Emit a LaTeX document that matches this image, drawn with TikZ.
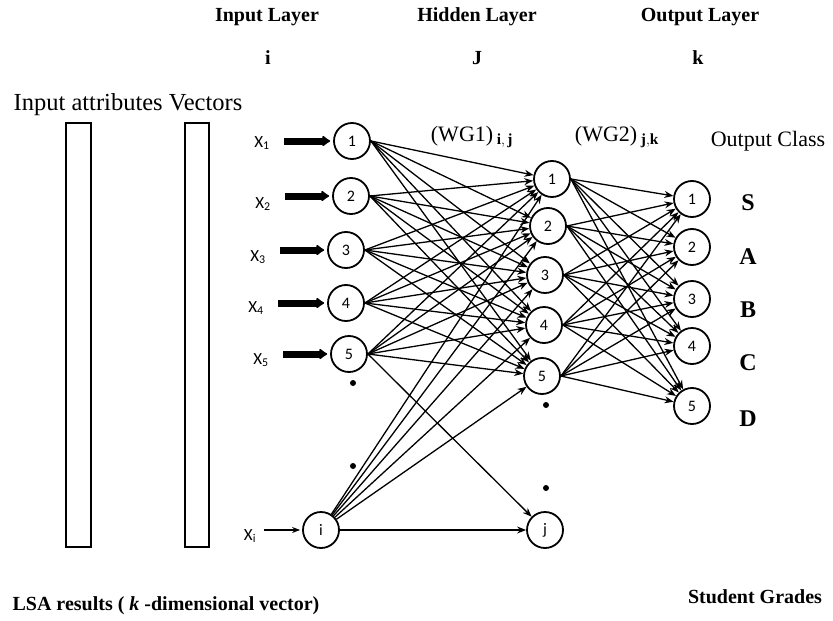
\documentclass[tikz,border=0pt]{standalone}
\usepackage{fontspec}
\setmainfont{Liberation Serif}
\newfontfamily\numfont{Carlito}
\usetikzlibrary{arrows.meta}

\begin{document}
\begin{tikzpicture}[x=1pt,y=-1pt,
    neuron/.style={circle,draw,line width=1.8pt,minimum size=36pt,inner sep=0pt,
        font=\numfont\fontsize{16}{16}\selectfont},
    link/.style={line width=1.3pt,-{Stealth[length=9pt,width=7pt]}},
    fatarrow/.style={line width=7pt,-{Latex[round,length=9pt,width=13pt]},shorten <=11pt,shorten >=3pt},
    inlabel/.style={font=\numfont\fontsize{17}{17}\selectfont},
    heading/.style={font=\bfseries\fontsize{20}{20}\selectfont},
    classlabel/.style={font=\bfseries\fontsize{24}{24}\selectfont},
    plain/.style={font=\fontsize{22}{22}\selectfont}
]
\useasboundingbox (0,0) rectangle (833,621);

% layer headings
\node[heading] (hin) at (267,17) {Input Layer};
\node[heading] (hhid) at (477,17) {Hidden Layer};
\node[heading] (hout) at (700,17) {Output Layer};
\node[heading] (idxi) at (268,58) {i};
\node[heading] (idxj) at (477,58) {J};
\node[heading] (idxk) at (698,58) {k};

% input vectors
\node[plain,font=\fontsize{24.5}{24.5}\selectfont] (vec) at (128,105) {Input attributes Vectors};
\draw[line width=1.8pt] (66,123) rectangle (91,547);
\draw[line width=1.8pt] (185,123) rectangle (209,547);

% input layer
\node[neuron] (in1) at (352,141) {1};
\node[neuron] (in2) at (351,196) {2};
\node[neuron] (in3) at (346,250) {3};
\node[neuron] (in4) at (346,303) {4};
\node[neuron] (in5) at (349,354) {5};
\node[neuron] (ini) at (321,530) {i};

% hidden layer
\node[neuron] (hd1) at (552,179) {1};
\node[neuron] (hd2) at (548,226) {2};
\node[neuron] (hd3) at (545,275) {3};
\node[neuron] (hd4) at (544,325) {4};
\node[neuron] (hd5) at (542,376) {5};
\node[neuron] (hdj) at (545,530) {j};

% output layer
\node[neuron] (out1) at (692,199) {1};
\node[neuron] (out2) at (692,247) {2};
\node[neuron] (out3) at (692,299) {3};
\node[neuron] (out4) at (692,346) {4};
\node[neuron] (out5) at (692,406) {5};

% inputs
\node[inlabel] (x1) at (262,143) {X\textsubscript{1}};
\node[inlabel] (x2) at (263,204) {X\textsubscript{2}};
\node[inlabel] (x3) at (258,257) {X\textsubscript{3}};
\node[inlabel] (x4) at (256,308) {X\textsubscript{4}};
\node[inlabel] (x5) at (261,360) {X\textsubscript{5}};
\node[inlabel] (xi) at (250,536) {X\textsubscript{i}};
\foreach \n in {1,...,5}
    \draw[fatarrow] (x\n.east |- in\n) -- (in\n);
\draw[line width=1.1pt,-{Stealth[length=8pt,width=6pt]},shorten <=4pt,shorten >=2pt] (xi.east |- ini) -- (ini);

% dots
\foreach \p in {(353,383),(353,466),(546,405),(546,488)}
    \fill \p circle (3pt);

% weights
\foreach \a in {1,...,5}
    \foreach \b in {1,...,5}
        \draw[link] (in\a.east) -- (hd\b);
\foreach \b in {1,...,5}
    \draw[link] (ini) -- (hd\b);
\draw[link] (in5.east) -- (hdj);
\draw[link] (ini) -- (hdj);
\foreach \a in {1,...,5}
    \foreach \b in {1,...,5}
        \draw[link] (hd\a.east) -- (out\b);

\node[plain] (wg1) at (472,137) {(WG1)\,$_{\mathbf{i,\,j}}$};
\node[plain] (wg2) at (617,137) {(WG2)\,$_{\mathbf{j,k}}$};

% output classes
\node[plain] (cls) at (768,141) {Output Class};
\node[classlabel] (gs) at (748,203) {S};
\node[classlabel] (ga) at (748,257) {A};
\node[classlabel] (gb) at (748,310) {B};
\node[classlabel] (gc) at (748,363) {C};
\node[classlabel] (gd) at (748,419) {D};

% captions
\node[heading] (lsa) at (166,606) {LSA results ( \textit{k} -dimensional vector)};
\node[heading] (grades) at (755,597) {Student Grades};
\end{tikzpicture}
\end{document}
